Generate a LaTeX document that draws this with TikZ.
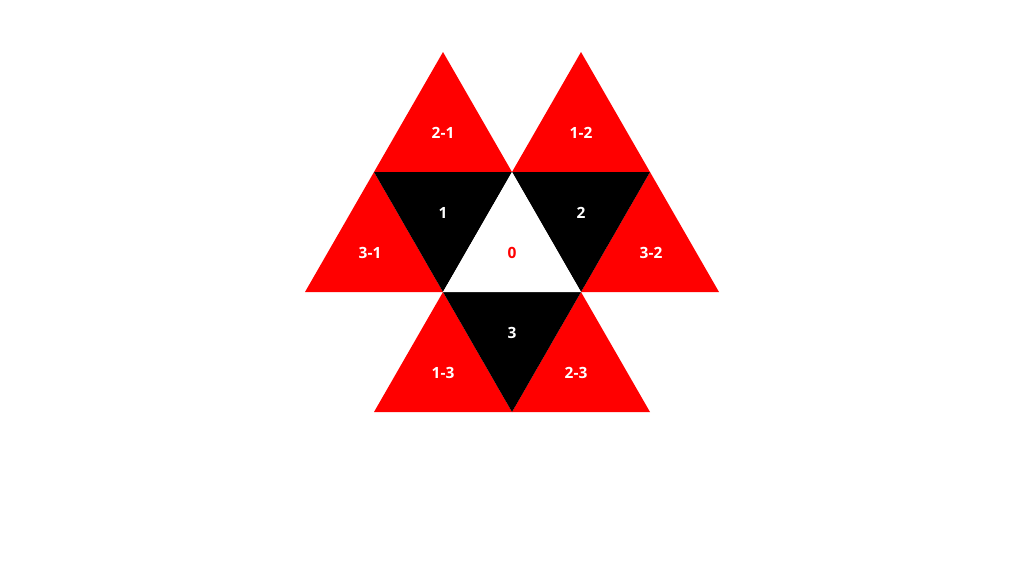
\documentclass[tikz,border=0pt]{standalone}
\usepackage{fontspec}
\setmainfont{Open Sans}
\definecolor{tred}{RGB}{255,0,0}
\begin{document}
\begin{tikzpicture}[x=0.75pt,y=-0.75pt,
  redtri/.style={fill=tred,draw=none},
  blacktri/.style={fill=black,draw=none},
  whitetri/.style={fill=white,draw=none},
  lbl/.style={font=\fontsize{11.6}{14}\selectfont\bfseries,text=white,inner sep=0pt},
  lblred/.style={lbl,text=tred}]
\useasboundingbox (0,0) rectangle (1024,576);
% vertices
\coordinate (a1) at (443,52);
\coordinate (a2) at (581,52);
\coordinate (b1) at (374,172);
\coordinate (b2) at (512,172);
\coordinate (b3) at (650,172);
\coordinate (c1) at (305,292);
\coordinate (c2) at (443,292);
\coordinate (c3) at (581,292);
\coordinate (c4) at (719,292);
\coordinate (d1) at (374,412);
\coordinate (d2) at (512,412);
\coordinate (d3) at (650,412);
% red triangles
\fill[redtri] (a1) -- (b1) -- (b2) -- cycle;
\fill[redtri] (a2) -- (b2) -- (b3) -- cycle;
\fill[redtri] (b1) -- (c1) -- (c2) -- cycle;
\fill[redtri] (b3) -- (c3) -- (c4) -- cycle;
\fill[redtri] (c2) -- (d1) -- (d2) -- cycle;
\fill[redtri] (c3) -- (d2) -- (d3) -- cycle;
% black triangles
\fill[blacktri] (b1) -- (b2) -- (c2) -- cycle;
\fill[blacktri] (b2) -- (b3) -- (c3) -- cycle;
\fill[blacktri] (c2) -- (c3) -- (d2) -- cycle;
% white centre
\fill[whitetri] (b2) -- (c2) -- (c3) -- cycle;
% labels
\node[lbl] (l21) at (443,133) {2-1};
\node[lbl] (l12) at (581,133) {1-2};
\node[lbl] (l1) at (443,213) {1};
\node[lbl] (l2) at (581,213) {2};
\node[lbl] (l31) at (370,253) {3-1};
\node[lblred] (l0) at (512,253) {0};
\node[lbl] (l32) at (651,253) {3-2};
\node[lbl] (l3) at (512,333) {3};
\node[lbl] (l13) at (443,373) {1-3};
\node[lbl] (l23) at (576,373) {2-3};
\end{tikzpicture}
\end{document}
